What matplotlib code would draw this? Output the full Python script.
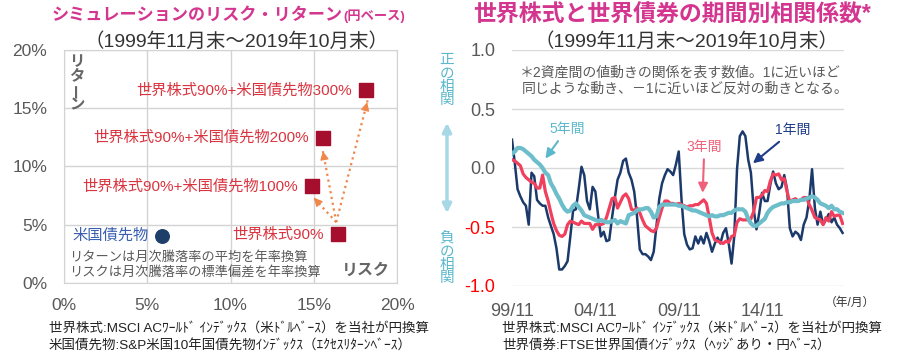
import numpy as np
import pandas as pd
import matplotlib
matplotlib.use('Agg')
import matplotlib.pyplot as plt

plt.rcParams['font.family'] = ['Liberation Sans', 'Noto Sans CJK JP']

# 左：シミュレーションのリスク・リターン（%）
assets = ['米国債先物', '世界株式90%', '世界株式90%+米国債先物100%',
          '世界株式90%+米国債先物200%', '世界株式90%+米国債先物300%']
risk = [5.9, 16.45, 14.9, 15.55, 18.15]
ret = [4.05, 4.15, 8.3, 12.45, 16.55]

# 右：期間別相関係数（2ヶ月ごとに読み取り）
dates = pd.date_range('1999-11-30', periods=120, freq=pd.offsets.MonthEnd(2))
corr_1y = [0.24, 0.04, -0.18, -0.24, -0.29, -0.32, -0.48, -0.04, -0.07, -0.27,
           -0.30, -0.32, -0.32, -0.42, -0.49, -0.56, -0.68, -0.86, -0.86, -0.83,
           -0.79, -0.58, -0.36, -0.35, -0.18, 0.01, -0.06, -0.28, -0.35, -0.16,
           -0.20, -0.41, -0.58, -0.54, -0.62, -0.61, -0.42, -0.25, -0.10, -0.04,
           0.06, 0.08, -0.04, -0.10, -0.20, -0.41, -0.69, -0.73, -0.73, -0.75,
           -0.78, -0.71, -0.49, -0.26, -0.13, -0.06, -0.01, -0.03, -0.06, 0.03,
           0.14, -0.27, -0.56, -0.65, -0.69, -0.68, -0.58, -0.64, -0.58, -0.64,
           -0.55, -0.62, -0.71, -0.64, -0.59, -0.64, -0.55, -0.51, -0.64, -0.81,
           -0.58, -0.01, 0.27, 0.31, 0.27, 0.07, -0.04, -0.35, -0.52, -0.38,
           -0.21, -0.28, -0.28, -0.14, -0.03, -0.13, -0.18, -0.16, -0.06, -0.18,
           -0.51, -0.58, -0.54, -0.56, -0.61, -0.48, -0.42, -0.27, -0.01, -0.34,
           -0.48, -0.37, -0.48, -0.44, -0.39, -0.46, -0.42, -0.48, -0.51, -0.55]
corr_3y = [0.07, 0.06, 0.04, 0.02, -0.05, -0.08, -0.10, -0.12, -0.13, -0.17,
           -0.17, -0.06, -0.20, -0.28, -0.38, -0.47, -0.53, -0.57, -0.58, -0.56,
           -0.48, -0.45, -0.46, -0.47, -0.48, -0.45, -0.47, -0.47, -0.47, -0.52,
           -0.48, -0.48, -0.48, -0.47, -0.42, -0.34, -0.26, -0.25, -0.34, -0.29,
           -0.24, -0.22, -0.26, -0.35, -0.36, -0.34, -0.38, -0.44, -0.49, -0.51,
           -0.53, -0.54, -0.51, -0.42, -0.34, -0.28, -0.28, -0.30, -0.30, -0.31,
           -0.30, -0.31, -0.32, -0.33, -0.32, -0.32, -0.31, -0.31, -0.29, -0.27,
           -0.30, -0.42, -0.55, -0.61, -0.62, -0.63, -0.64, -0.62, -0.63, -0.58,
           -0.57, -0.46, -0.43, -0.44, -0.44, -0.44, -0.43, -0.37, -0.25, -0.25,
           -0.23, -0.19, -0.20, -0.11, -0.05, -0.06, -0.05, -0.10, -0.09, -0.20,
           -0.29, -0.27, -0.26, -0.28, -0.27, -0.25, -0.25, -0.31, -0.36, -0.42,
           -0.43, -0.44, -0.48, -0.42, -0.45, -0.37, -0.41, -0.40, -0.40, -0.47]
corr_5y = [0.12, 0.14, 0.17, 0.17, 0.16, 0.14, 0.12, 0.10, 0.07, 0.05,
           0.03, 0.00, -0.04, -0.06, -0.13, -0.17, -0.22, -0.26, -0.31, -0.35,
           -0.37, -0.36, -0.32, -0.30, -0.33, -0.36, -0.40, -0.41, -0.42, -0.43,
           -0.44, -0.45, -0.44, -0.45, -0.46, -0.46, -0.45, -0.44, -0.47, -0.45,
           -0.46, -0.47, -0.40, -0.39, -0.38, -0.36, -0.35, -0.35, -0.34, -0.34,
           -0.37, -0.42, -0.41, -0.33, -0.31, -0.31, -0.31, -0.31, -0.31, -0.31,
           -0.32, -0.32, -0.33, -0.34, -0.35, -0.36, -0.36, -0.37, -0.38, -0.39,
           -0.40, -0.41, -0.40, -0.41, -0.41, -0.40, -0.40, -0.39, -0.38, -0.38,
           -0.36, -0.35, -0.35, -0.35, -0.37, -0.43, -0.47, -0.49, -0.49, -0.47,
           -0.45, -0.43, -0.38, -0.35, -0.33, -0.32, -0.31, -0.30, -0.30, -0.29,
           -0.29, -0.28, -0.28, -0.28, -0.27, -0.27, -0.26, -0.25, -0.24, -0.25,
           -0.27, -0.30, -0.31, -0.32, -0.34, -0.32, -0.35, -0.35, -0.37, -0.38]

GRAY = '#595959'
MAGENTA = '#D4368F'


def fx(px):
    return px / 900


def fy(py):
    return 1 - py / 360


fig = plt.figure(figsize=(9, 3.6), dpi=100)

# ---------------- 左パネル ----------------
ax1 = fig.add_axes([fx(64), fy(282.7), 333 / 900, 232.7 / 360])
ax1.set_xlim(0, 20)
ax1.set_ylim(0, 20)
ax1.set_xticks(range(0, 21, 5))
ax1.set_yticks(range(0, 21, 5))
ax1.set_xticklabels([f'{v}%' for v in range(0, 21, 5)])
ax1.set_yticklabels([f'{v}%' for v in range(0, 21, 5)])
ax1.tick_params(length=0, labelsize=12.5, labelcolor=GRAY)
ax1.tick_params(axis='x', pad=11)
ax1.tick_params(axis='y', pad=12)
ax1.grid(True, color='#d3d3d3', lw=1)
ax1.set_axisbelow(True)
for s in ax1.spines.values():
    s.set_color('#d3d3d3')

ax1.scatter(risk[:1], ret[:1], s=95, color='#1F3F6B', zorder=3)
ax1.scatter(risk[1:], ret[1:], marker='s', s=115, color='#A50F2D', zorder=3)
for i, name in enumerate(assets):
    ax1.annotate(name, (risk[i], ret[i]), xytext=(-10, 0), textcoords='offset points',
                 ha='right', va='center', fontsize=11,
                 color='#3A5FB0' if i == 0 else '#D9343F')

# オレンジの点線矢印
start = (16.35, 5.2)
for tip in [(15.0, 7.3), (15.55, 11.3), (18.25, 15.75)]:
    ax1.plot([start[0], tip[0]], [start[1], tip[1]], ls=':', color='#F0874A', lw=1.6, zorder=2)
    back = (tip[0] - 0.06 * (tip[0] - start[0]), tip[1] - 0.06 * (tip[1] - start[1]))
    ax1.annotate('', xy=tip, xytext=back,
                 arrowprops=dict(arrowstyle='-|>', color='#F0874A', lw=0.8, mutation_scale=13))

for ch, py in zip(['リ', 'タ', 'ー', 'ン'], [62, 76, 90, 105]):
    fig.text(fx(77), fy(py), ch, ha='center', va='center', fontsize=11, fontweight='bold',
             color='#666666', rotation=90 if ch == 'ー' else 0)
fig.text(fx(390), fy(270), 'リスク', ha='right', va='center', fontsize=11.5,
         fontweight='bold', color='#666666')
fig.text(fx(69), fy(258), 'リターンは月次騰落率の平均を年率換算', ha='left', va='center',
         fontsize=9.5, color=GRAY)
fig.text(fx(69), fy(273), 'リスクは月次騰落率の標準偏差を年率換算', ha='left', va='center',
         fontsize=9.5, color=GRAY)

fig.text(fx(343), fy(15), 'シミュレーションのリスク・リターン', ha='right', va='center',
         fontsize=12.3, fontweight='bold', color=MAGENTA)
fig.text(fx(343), fy(16), '(円ベース)', ha='left', va='center',
         fontsize=9.5, fontweight='bold', color=MAGENTA)
fig.text(fx(237), fy(42), '（1999年11月末～2019年10月末）', ha='center', va='center',
         fontsize=14, color='#333333')
fig.text(fx(49), fy(328), '世界株式:MSCI ACﾜｰﾙﾄﾞ ｲﾝﾃﾞｯｸｽ（米ﾄﾞﾙﾍﾞｰｽ）を当社が円換算',
         ha='left', va='center', fontsize=9.7, color='#222222')
fig.text(fx(49), fy(345), '米国債先物:S&P米国10年国債先物ｲﾝﾃﾞｯｸｽ（ｴｸｾｽﾘﾀｰﾝﾍﾞｰｽ）',
         ha='left', va='center', fontsize=9.7, color='#222222')

# ---------------- 右パネル ----------------
ax2 = fig.add_axes([fx(512), fy(286), 332 / 900, 236 / 360])
ax2.plot(dates, corr_1y, color='#1B3A6B', lw=1.8, zorder=2)
ax2.plot(dates, corr_3y, color='#F0405E', lw=2.3, zorder=3)
ax2.plot(dates, corr_5y, color='#6DBDCA', lw=3.0, zorder=4)
ax2.set_xlim(pd.Timestamp('1999-11-30'), pd.Timestamp('2019-10-31'))
ax2.set_ylim(-1, 1)
yt = [-1.0, -0.5, 0.0, 0.5, 1.0]
ax2.set_yticks(yt)
ax2.set_yticklabels([f'{v:.1f}' for v in yt])
for lab, v in zip(ax2.get_yticklabels(), yt):
    lab.set_color('#FF0000' if v < 0 else GRAY)
xt = ['1999-11-30', '2004-11-30', '2009-11-30', '2014-11-30']
ax2.set_xticks([pd.Timestamp(d) for d in xt])
ax2.set_xticklabels(['99/11', '04/11', '09/11', '14/11'], color=GRAY)
ax2.tick_params(length=0, labelsize=13)
ax2.tick_params(axis='x', pad=12)
ax2.tick_params(axis='y', pad=12)
ax2.grid(axis='y', color='#d9d9d9', lw=1)
ax2.set_axisbelow(True)
for s in ax2.spines.values():
    s.set_visible(False)

ax2.annotate('5年間', xy=(pd.Timestamp('2001-11-30'), 0.08),
             xytext=(pd.Timestamp('2003-03-15'), 0.33), ha='center', va='center',
             fontsize=10, color='#5BB8CC',
             arrowprops=dict(arrowstyle='-|>', color='#5BB8CC', lw=1.5,
                             mutation_scale=14, shrinkA=2, shrinkB=0))
ax2.annotate('3年間', xy=(pd.Timestamp('2011-05-10'), -0.21),
             xytext=(pd.Timestamp('2011-06-15'), 0.18), ha='center', va='center',
             fontsize=10, color='#F0607A',
             arrowprops=dict(arrowstyle='-|>', color='#F0607A', lw=1.5,
                             mutation_scale=14, shrinkA=2, shrinkB=0))
ax2.annotate('1年間', xy=(pd.Timestamp('2014-05-15'), 0.04),
             xytext=(pd.Timestamp('2016-10-12'), 0.32), ha='center', va='center',
             fontsize=10, color='#1F3C88',
             arrowprops=dict(arrowstyle='-|>', color='#1F3C88', lw=1.5,
                             mutation_scale=14, shrinkA=2, shrinkB=0))

fig.text(fx(680), fy(73), '＊2資産間の値動きの関係を表す数値。1に近いほど', ha='center',
         va='center', fontsize=10, color=GRAY)
fig.text(fx(685), fy(89), '同じような動き、－1に近いほど反対の動きとなる。', ha='center',
         va='center', fontsize=10, color=GRAY)

fig.text(fx(447), fy(80), '正\nの\n相\n関', ha='center', va='center', fontsize=10.5,
         color='#5BB8CC', linespacing=0.95)
fig.text(fx(447), fy(258), '負\nの\n相\n関', ha='center', va='center', fontsize=10.5,
         color='#5BB8CC', linespacing=0.95)
fig.add_artist(matplotlib.patches.FancyArrowPatch(
    (fx(447), fy(120)), (fx(447), fy(216)), transform=fig.transFigure,
    arrowstyle='<|-|>', color='#A8D8E6', lw=2.5, mutation_scale=13))

fig.text(fx(850), fy(303), '（年/月）', ha='center', va='center', fontsize=8.5, color='#333333')

fig.text(fx(672), fy(15), '世界株式と世界債券の期間別相関係数*', ha='center', va='center',
         fontsize=16.5, fontweight='bold', color=MAGENTA)
fig.text(fx(686), fy(42), '（1999年11月末～2019年10月末）', ha='center', va='center',
         fontsize=14, color='#333333')
fig.text(fx(502), fy(328), '世界株式:MSCI ACﾜｰﾙﾄﾞ ｲﾝﾃﾞｯｸｽ（米ﾄﾞﾙﾍﾞｰｽ）を当社が円換算',
         ha='left', va='center', fontsize=9.7, color='#222222')
fig.text(fx(502), fy(345), '世界債券:FTSE世界国債ｲﾝﾃﾞｯｸｽ（ﾍｯｼﾞあり・円ﾍﾞｰｽ）',
         ha='left', va='center', fontsize=9.7, color='#222222')

fig.savefig('out.png', dpi=100)
